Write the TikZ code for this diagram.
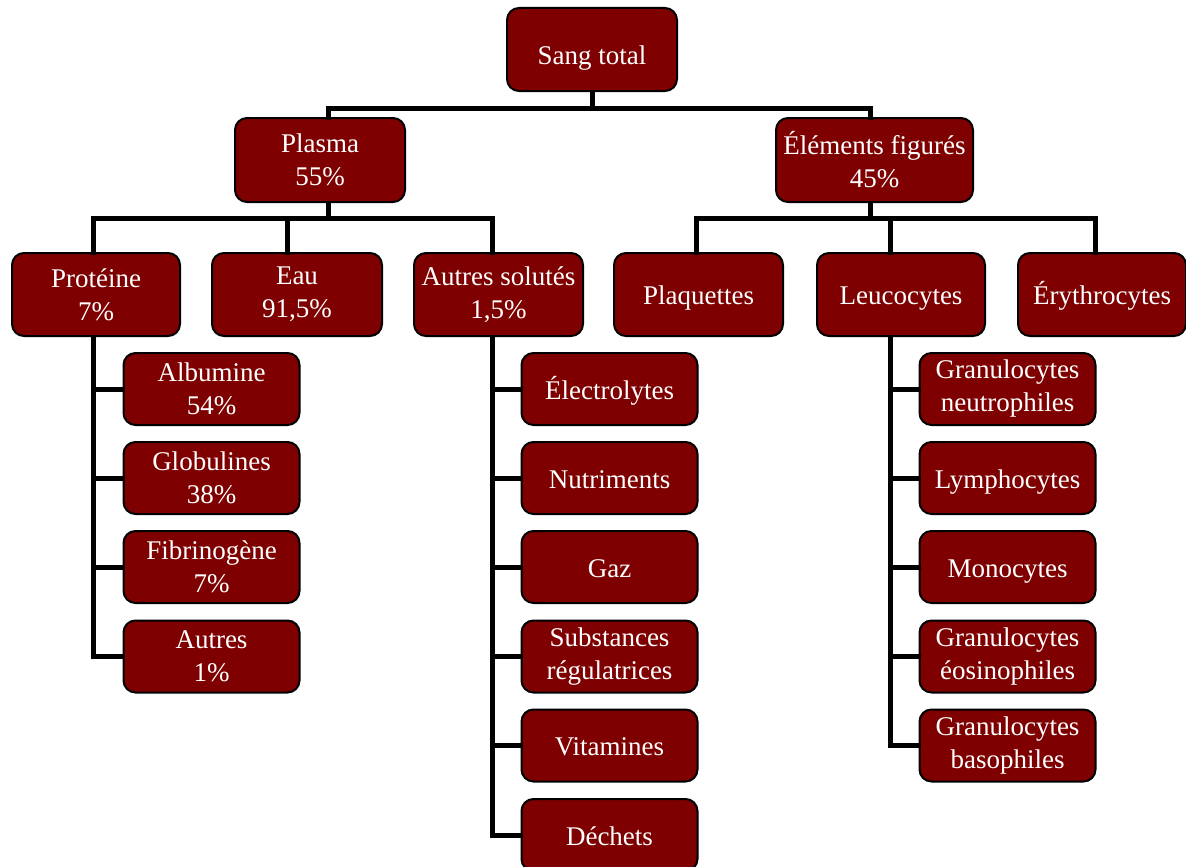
\documentclass[tikz,border=0pt]{standalone}
\usepackage{fontspec}
\setmainfont{Liberation Serif}
\definecolor{boxred}{RGB}{126,0,0}
\tikzset{
  bx/.style={draw=black, line width=2pt, fill=boxred, rounded corners=12pt,
    text=white, align=center, inner sep=0pt,
    font=\fontsize{27}{33}\selectfont},
  topbx/.style={bx, minimum height=83pt},
  subbx/.style={bx, minimum width=176pt, minimum height=72pt},
  oneline/.style={text height=26.7pt, text depth=5.9pt},
  conn/.style={draw=black, line width=5pt, line cap=rect, line join=miter}
}
\begin{document}
\begin{tikzpicture}[x=1pt, y=-1pt]
\useasboundingbox (0,0) rectangle (1186,867);
% level 0 and 1
\node[topbx, minimum width=170pt, text height=36.7pt, text depth=5.9pt] (sang) at (592,49.5) {Sang total};
\node[topbx, minimum width=170pt, minimum height=84pt] (plasma) at (320,160) {Plasma\\55\%};
\node[topbx, minimum width=197pt, minimum height=84pt] (elem) at (874.5,160) {Éléments figurés\\45\%};
% level 2
\node[topbx, minimum width=168pt] (prot) at (96,294.5) {Protéine\\7\%};
\node[topbx, minimum width=170pt] (eau) at (297,294.5) {Eau\\91,5\%};
\node[topbx, minimum width=169pt] (autres) at (498.5,294.5) {Autres solutés\\1,5\%};
\node[topbx, oneline, minimum width=169pt] (plaq) at (698.5,294.5) {Plaquettes};
\node[topbx, oneline, minimum width=168pt] (leuc) at (901,294.5) {Leucocytes};
\node[topbx, oneline, minimum width=168pt] (eryth) at (1102,294.5) {Érythrocytes};
% level 3 left
\node[subbx] (alb) at (211.5,389) {Albumine\\54\%};
\node[subbx] (glo) at (211.5,478) {Globulines\\38\%};
\node[subbx] (fib) at (211.5,567) {Fibrinogène\\7\%};
\node[subbx] (aut) at (211.5,656.5) {Autres\\1\%};
% level 3 middle
\node[subbx, oneline] (elec) at (609.5,389) {Électrolytes};
\node[subbx, oneline] (nutr) at (609.5,478) {Nutriments};
\node[subbx, oneline] (gaz) at (609.5,567) {Gaz};
\node[subbx] (subs) at (609.5,656.5) {Substances\\régulatrices};
\node[subbx, oneline] (vit) at (609.5,745.5) {Vitamines};
\node[subbx, oneline] (dech) at (609.5,835) {Déchets};
% level 3 right
\node[subbx] (gneu) at (1007.5,389) {Granulocytes\\neutrophiles};
\node[subbx, oneline] (lymp) at (1007.5,478) {Lymphocytes};
\node[subbx, oneline] (mono) at (1007.5,567) {Monocytes};
\node[subbx] (geos) at (1007.5,656.5) {Granulocytes\\éosinophiles};
\node[subbx] (gbas) at (1007.5,745.5) {Granulocytes\\basophiles};
% junction coordinates
\coordinate (h1) at ([yshift=-16pt]sang.south);
\coordinate (plT) at ([xshift=8pt]plasma.north);
\coordinate (plB) at ([xshift=8pt]plasma.south);
\coordinate (elT) at ([xshift=-4pt]elem.north);
\coordinate (elB) at ([xshift=-4pt]elem.south);
\coordinate (h2) at ([yshift=-15pt]plB);
\coordinate (h3) at ([yshift=-15pt]elB);
\coordinate (prT) at ([xshift=-3pt]prot.north);
\coordinate (prB) at ([xshift=-3pt]prot.south);
\coordinate (eaT) at ([xshift=-10pt]eau.north);
\coordinate (auT) at ([xshift=-6pt]autres.north);
\coordinate (auB) at ([xshift=-6pt]autres.south);
\coordinate (pqT) at ([xshift=-2.5pt]plaq.north);
\coordinate (leT) at ([xshift=-11pt]leuc.north);
\coordinate (leB) at ([xshift=-11pt]leuc.south);
\coordinate (erT) at ([xshift=-7pt]eryth.north);
% connectors level 0-1
\draw[conn] (sang.south) -- (h1);
\draw[conn] (plT) |- (h1) -| (elT);
% connectors level 1-2
\draw[conn] (plB) -- (h2);
\draw[conn] (prT) |- (h2) -| (auT);
\draw[conn] (eaT) -- (eaT |- h2);
\draw[conn] (elB) -- (h3);
\draw[conn] (pqT) |- (h3) -| (erT);
\draw[conn] (leT) -- (leT |- h3);
% connectors level 2-3
\draw[conn] (prB) |- (alb.west);
\draw[conn] (prB) |- (glo.west);
\draw[conn] (prB) |- (fib.west);
\draw[conn] (prB) |- (aut.west);
\draw[conn] (auB) |- (elec.west);
\draw[conn] (auB) |- (nutr.west);
\draw[conn] (auB) |- (gaz.west);
\draw[conn] (auB) |- (subs.west);
\draw[conn] (auB) |- (vit.west);
\draw[conn] (auB) |- (dech.west);
\draw[conn] (leB) |- (gneu.west);
\draw[conn] (leB) |- (lymp.west);
\draw[conn] (leB) |- (mono.west);
\draw[conn] (leB) |- (geos.west);
\draw[conn] (leB) |- (gbas.west);
\end{tikzpicture}
\end{document}
